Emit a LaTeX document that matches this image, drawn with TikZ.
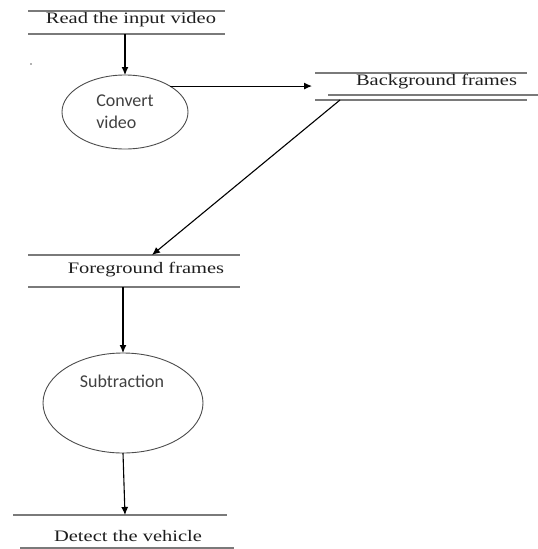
\documentclass[tikz,border=0pt]{standalone}
\usepackage{fontspec}
\usetikzlibrary{arrows.meta,shapes.geometric}
\newfontfamily\serifw{Liberation Serif}[FakeStretch=1.28]
\newfontfamily\sansc{Carlito}
\definecolor{storeline}{HTML}{7A7A7A}
\definecolor{txt}{HTML}{1E1E1E}
\begin{document}
\begin{tikzpicture}[x=1pt,y=-1pt,
  store/.style={minimum width=#1,inner sep=0pt,outer sep=0pt},
  sline/.style={draw=storeline,line width=1.5pt},
  proc/.style={ellipse,draw=black!70,line width=0.9pt,inner sep=0pt,outer sep=0pt},
  stxt/.style={font=\serifw\fontsize{16}{18}\selectfont,text=txt,inner sep=0pt},
  ptxt/.style={font=\sansc\fontsize{18}{22}\selectfont,text=txt!85,inner sep=0pt},
  flow/.style={draw=black,line width=1.1pt,-{Latex[length=8pt,width=7pt]}}]
\useasboundingbox (0,0) rectangle (538,549);
% data stores
\node[store=197,minimum height=23] (rd) at (126.5,22.5) {};
\node[store=212,minimum height=27] (bg) at (421,86.5) {};
\node[store=212,minimum height=32] (fg) at (134,271) {};
\node[store=214,minimum height=33] (dt) at (120,531.5) {};
\draw[sline] (rd.north west) -- (rd.north east);
\draw[sline] (rd.south west) -- (rd.south east);
\draw[sline] (bg.north west) -- (bg.north east);
\draw[sline] (bg.south west) -- (bg.south east);
\draw[sline] ([xshift=13pt,yshift=5pt]bg.south west) -- ([xshift=11pt,yshift=5pt]bg.south east);
\draw[sline] (fg.north west) -- (fg.north east);
\draw[sline] (fg.south west) -- (fg.south east);
\draw[sline] (dt.north west) -- (dt.north east);
\draw[sline] ([xshift=7pt]dt.south west) -- ([xshift=7pt]dt.south east);
\node[stxt] (rdt) at (131,20) {Read the input video};
\node[stxt] (bgt) at (436.5,82) {Background frames};
\node[stxt] (fgt) at (146,270) {Foreground frames};
\node[stxt] (dtt) at (128,536) {Detect the vehicle};
% processes
\node[proc,minimum width=126,minimum height=74,ptxt,align=left] (cv) at (125,112) {Convert\\video};
\node[proc,minimum width=160,minimum height=100] (sub) at (123,403) {};
\node[ptxt] (subt) at (122,381) {Subtraction};
% stray dot
\fill[black!60] (31,64) circle (0.9);
% flows
\draw[flow] (cv.north |- rd.south) -- (cv.north);
\draw[flow] (cv.30) -- ([xshift=-3pt]cv.30 -| bg.west);
\draw[flow] ([xshift=25pt]bg.south west) -- ([xshift=18pt]fg.north);
\draw[flow] (sub.north |- fg.south) -- (sub.north);
\draw[flow] (sub.south) -- ([xshift=5pt]dt.north);
\end{tikzpicture}
\end{document}
